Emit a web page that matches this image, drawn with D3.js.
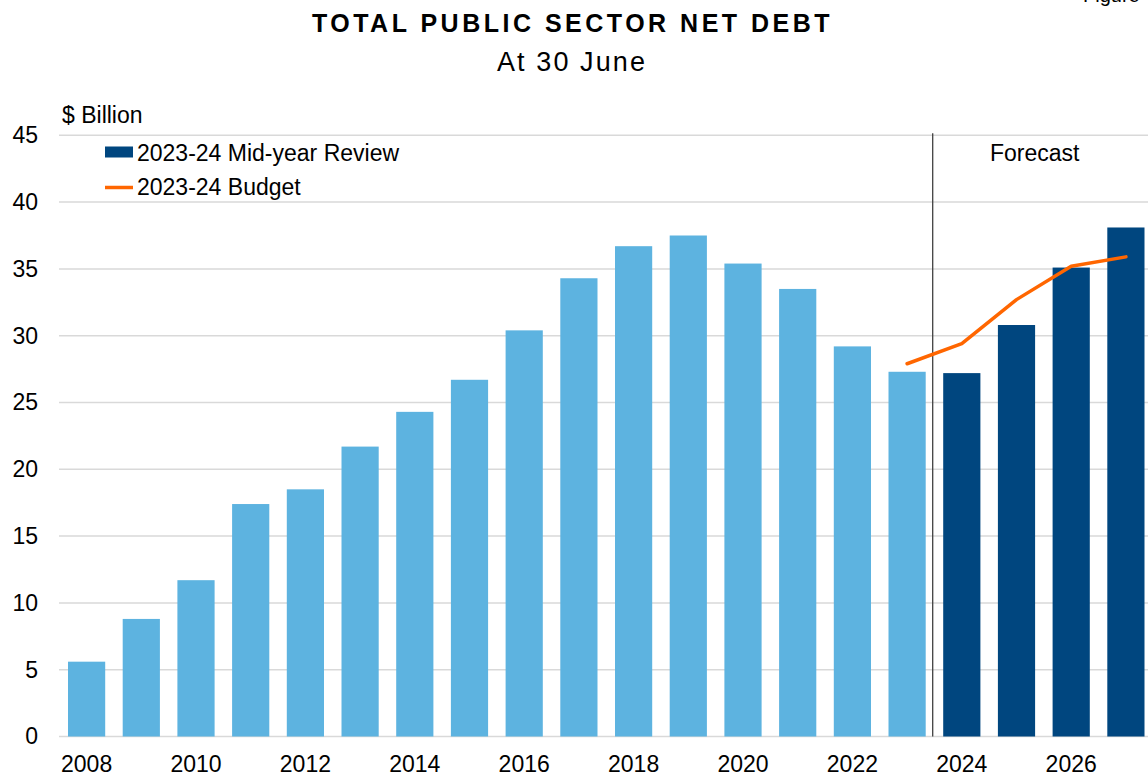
<!DOCTYPE html>
<html>
<head>
<meta charset="utf-8">
<script src="https://cdn.jsdelivr.net/npm/d3@7"></script>
<style>
  html, body { margin: 0; padding: 0; background: #ffffff; overflow: hidden; }
  svg { display: block; font-family: "Liberation Sans", Arial, sans-serif; }
</style>
</head>
<body>
<svg id="chart" width="1148" height="774"></svg>
<script>
// Total public sector net debt at 30 June ($ billion)
const years = ["2008","2009","2010","2011","2012","2013","2014","2015","2016","2017",
               "2018","2019","2020","2021","2022","2023","2024","2025","2026","2027"];
const midYearReview = [5.6, 8.8, 11.7, 17.4, 18.5, 21.7, 24.3, 26.7, 30.4, 34.3,
                       36.7, 37.5, 35.4, 33.5, 29.2, 27.3, 27.2, 30.8, 35.1, 38.1];
const budgetYears = ["2023","2024","2025","2026","2027"];
const budget = [27.9, 29.4, 32.7, 35.2, 35.9];
const forecastStart = "2024";
const yTicks = [0, 5, 10, 15, 20, 25, 30, 35, 40, 45];
const xTickLabels = ["2008","2010","2012","2014","2016","2018","2020","2022","2024","2026"];

const colActual = "#5DB3E0";
const colForecast = "#00467F";
const colBudget = "#FF6600";
const colGrid = "#D9D9D9";

const svg = d3.select("#chart");
const FONT = 23;

const x = d3.scaleBand()
  .domain(years)
  .range([59.25, 1153.25])
  .paddingInner(0.32)
  .paddingOuter(0.16);

const y = d3.scaleLinear()
  .domain([0, 45])
  .range([736.5, 135.3]);

// Titles
svg.append("text")
  .attr("x", 572.5).attr("y", 31.5)
  .attr("text-anchor", "middle")
  .style("font-size", "25px").style("font-weight", "bold")
  .style("letter-spacing", "3.5px")
  .text("TOTAL PUBLIC SECTOR NET DEBT");

svg.append("text")
  .attr("x", 572).attr("y", 70.5)
  .attr("text-anchor", "middle")
  .style("font-size", "27px")
  .style("letter-spacing", "2.1px")
  .text("At 30 June");

svg.append("text")
  .attr("x", 1083).attr("y", 1.5)
  .style("font-size", "20px")
  .text("Figure");

// Gridlines
svg.append("g")
  .selectAll("line")
  .data(yTicks)
  .join("line")
  .attr("x1", 59).attr("x2", 1148)
  .attr("y1", d => y(d)).attr("y2", d => y(d))
  .attr("stroke", colGrid).attr("stroke-width", 1.5);

// Y axis labels
const yAxis = d3.axisLeft(y).tickValues(yTicks).tickSize(0).tickPadding(0);
const gy = svg.append("g").attr("transform", "translate(38,0)").call(yAxis);
gy.select(".domain").remove();
gy.selectAll("text")
  .attr("fill", "#000")
  .style("font-size", FONT + "px")
  .style("font-family", "\"Liberation Sans\", Arial, sans-serif");

svg.append("text")
  .attr("x", 62).attr("y", 123)
  .style("font-size", FONT + "px")
  .text("$ Billion");

// Bars
const isForecast = d => +d >= +forecastStart;
svg.append("g")
  .selectAll("rect")
  .data(years.map((yr, i) => ({ yr, v: midYearReview[i] })))
  .join("rect")
  .attr("x", d => x(d.yr))
  .attr("width", x.bandwidth())
  .attr("y", d => y(d.v))
  .attr("height", d => y(0) - y(d.v))
  .attr("fill", d => isForecast(d.yr) ? colForecast : colActual);

// Forecast divider
const step = x.step();
const divX = x(forecastStart) - step * x.paddingInner() * 0.6;
svg.append("line")
  .attr("x1", divX).attr("x2", divX)
  .attr("y1", y(45) - 2).attr("y2", y(0))
  .attr("stroke", "#404040").attr("stroke-width", 1.3);

svg.append("text")
  .attr("x", divX + 102).attr("y", 161)
  .attr("text-anchor", "middle")
  .style("font-size", FONT + "px")
  .text("Forecast");

// Budget line
const line = d3.line()
  .x(d => x(d.yr) + x.bandwidth() / 2)
  .y(d => y(d.v));
svg.append("path")
  .datum(budgetYears.map((yr, i) => ({ yr, v: budget[i] })))
  .attr("d", line)
  .attr("fill", "none")
  .attr("stroke", colBudget)
  .attr("stroke-width", 3.5)
  .attr("stroke-linejoin", "round")
  .attr("stroke-linecap", "round");

// X axis labels
const xAxis = d3.axisBottom(x).tickValues(xTickLabels).tickSize(0).tickPadding(0);
const gx = svg.append("g").attr("transform", "translate(0,771.5)").call(xAxis);
gx.select(".domain").remove();
gx.selectAll("text")
  .attr("dy", 0)
  .attr("fill", "#000")
  .style("font-size", FONT + "px")
  .style("font-family", "\"Liberation Sans\", Arial, sans-serif");

// Legend
const legend = svg.append("g");
legend.append("rect")
  .attr("x", 105).attr("y", 146.5).attr("width", 28).attr("height", 11)
  .attr("fill", colForecast);
legend.append("text")
  .attr("x", 137).attr("y", 160.5)
  .style("font-size", FONT + "px")
  .text("2023-24 Mid-year Review");
legend.append("line")
  .attr("x1", 105).attr("x2", 133).attr("y1", 187.5).attr("y2", 187.5)
  .attr("stroke", colBudget).attr("stroke-width", 3.5);
legend.append("text")
  .attr("x", 137).attr("y", 195)
  .style("font-size", FONT + "px")
  .text("2023-24 Budget");
</script>
</body>
</html>
